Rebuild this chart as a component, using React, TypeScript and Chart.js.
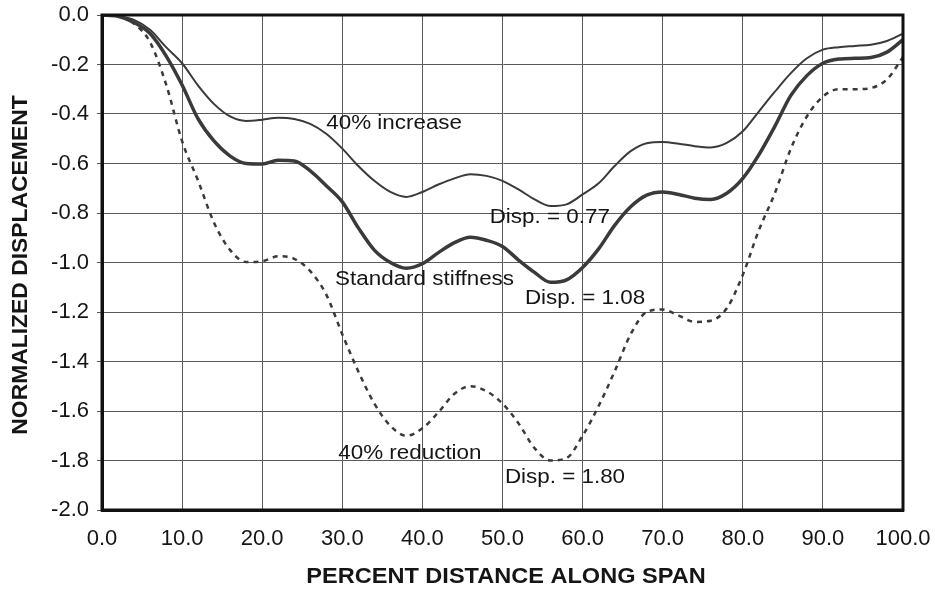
import React, { useEffect, useRef } from "react";
import { Chart, registerables } from "chart.js";

Chart.register(...registerables);

const xs = [0,2,4,6,8,10,12,14,16,18,20,22,24,26,28,30,32,34,36,38,40,42,44,46,48,50,52,54,56,58,60,62,64,66,68,70,72,74,76,78,80,82,84,86,88,90,92,94,96,98,100];

const increase40 = [0,-0.005,-0.02,-0.06,-0.13,-0.195,-0.285,-0.36,-0.41,-0.428,-0.423,-0.415,-0.42,-0.44,-0.48,-0.54,-0.61,-0.67,-0.715,-0.735,-0.715,-0.685,-0.66,-0.643,-0.65,-0.67,-0.705,-0.745,-0.772,-0.765,-0.725,-0.68,-0.61,-0.55,-0.518,-0.513,-0.52,-0.53,-0.535,-0.517,-0.47,-0.39,-0.31,-0.235,-0.175,-0.14,-0.13,-0.125,-0.12,-0.105,-0.075];

const standard = [0,-0.005,-0.03,-0.075,-0.165,-0.283,-0.42,-0.51,-0.57,-0.6,-0.602,-0.587,-0.59,-0.63,-0.69,-0.755,-0.86,-0.95,-1.0,-1.023,-1.005,-0.96,-0.92,-0.898,-0.91,-0.935,-0.99,-1.04,-1.08,-1.07,-1.02,-0.945,-0.85,-0.775,-0.728,-0.715,-0.725,-0.74,-0.745,-0.72,-0.66,-0.565,-0.45,-0.325,-0.245,-0.195,-0.178,-0.175,-0.172,-0.15,-0.1];

const reduction40 = [0,-0.005,-0.035,-0.11,-0.28,-0.51,-0.67,-0.84,-0.95,-0.998,-0.995,-0.975,-0.985,-1.035,-1.13,-1.29,-1.44,-1.57,-1.66,-1.7,-1.67,-1.605,-1.53,-1.5,-1.52,-1.57,-1.65,-1.75,-1.8,-1.79,-1.7,-1.58,-1.44,-1.29,-1.2,-1.19,-1.215,-1.24,-1.235,-1.185,-1.05,-0.87,-0.72,-0.54,-0.41,-0.33,-0.3,-0.3,-0.295,-0.26,-0.17];

const annotations = [
  { text: "40% increase", x: 28.0, y: -0.44 },
  { text: "Disp. = 0.77", x: 48.4, y: -0.82 },
  { text: "Standard stiffness", x: 29.1, y: -1.07 },
  { text: "Disp. = 1.08", x: 52.8, y: -1.147 },
  { text: "40% reduction", x: 29.5, y: -1.77 },
  { text: "Disp. = 1.80", x: 50.3, y: -1.87 },
];

const xTitle = "PERCENT DISTANCE ALONG SPAN";
const yTitle = "NORMALIZED DISPLACEMENT";

const FONT = "'Liberation Sans', Arial, sans-serif";
const LINE = "#3a3a3a";

const pts = (ys: number[]) => xs.map((x, i) => ({ x, y: ys[i] }));

const overlay = {
  id: "overlay",
  afterDraw(chart: any) {
    const { ctx, chartArea: a, scales } = chart;
    ctx.save();
    ctx.strokeStyle = "#111";
    ctx.lineWidth = 3;
    ctx.strokeRect(a.left, a.top, a.right - a.left, a.bottom - a.top);
    ctx.fillStyle = "#151515";
    ctx.font = `20px ${FONT}`;
    ctx.textBaseline = "middle";
    ctx.textAlign = "left";
    for (const t of annotations) {
      const px = scales.x.getPixelForValue(t.x);
      const py = scales.y.getPixelForValue(t.y);
      ctx.save();
      ctx.translate(px, py);
      ctx.scale(1.12, 1);
      ctx.fillText(t.text, 0, 0);
      ctx.restore();
    }
    ctx.font = `bold 22px ${FONT}`;
    ctx.textAlign = "center";
    ctx.save();
    ctx.translate(506, 577);
    ctx.scale(1.07, 1);
    ctx.fillText(xTitle, 0, 0);
    ctx.restore();
    ctx.save();
    ctx.translate(21, 265);
    ctx.rotate(-Math.PI / 2);
    ctx.scale(1.04, 1);
    ctx.fillText(yTitle, 0, 0);
    ctx.restore();
    ctx.restore();
  },
};

export default function App() {
  const ref = useRef<HTMLCanvasElement>(null);
  useEffect(() => {
    const chart = new Chart(ref.current!, {
      type: "line",
      data: {
        datasets: [
          { label: "40% increase", data: pts(increase40), borderColor: LINE, borderWidth: 2, pointRadius: 0, cubicInterpolationMode: "monotone", fill: false },
          { label: "Standard stiffness", data: pts(standard), borderColor: LINE, borderWidth: 3.5, pointRadius: 0, cubicInterpolationMode: "monotone", fill: false },
          { label: "40% reduction", data: pts(reduction40), borderColor: LINE, borderWidth: 2.5, borderDash: [5, 5], pointRadius: 0, cubicInterpolationMode: "monotone", fill: false },
        ],
      },
      options: {
        animation: false,
        responsive: false,
        maintainAspectRatio: false,
        layout: { padding: { top: 15, right: 32, left: 0, bottom: 0 } },
        plugins: { legend: { display: false }, tooltip: { enabled: false } },
        scales: {
          x: {
            type: "linear",
            min: 0,
            max: 100,
            afterFit: (s: any) => { s.height = 80; s.paddingLeft = 0; s.paddingRight = 0; },
            ticks: { stepSize: 10, callback: (v: any) => Number(v).toFixed(1), font: { family: FONT, size: 22 }, color: "#151515", padding: 16, maxRotation: 0 },
            grid: { color: "#5a5a5a", lineWidth: 1, drawTicks: false },
            border: { display: true, color: "#111", width: 3 },
          },
          y: {
            min: -2,
            max: 0,
            afterFit: (s: any) => { s.width = 102; s.paddingTop = 0; s.paddingBottom = 0; },
            ticks: { stepSize: 0.2, callback: (v: any) => (Math.abs(v) < 1e-9 ? "0.0" : Number(v).toFixed(1)), font: { family: FONT, size: 22 }, color: "#151515", padding: 8 },
            grid: { color: "#5a5a5a", lineWidth: 1, drawTicks: true, tickLength: 5 },
            border: { display: true, color: "#111", width: 3 },
          },
        },
      },
      plugins: [overlay],
    } as any);
    return () => chart.destroy();
  }, []);
  return (
    <div style={{ position: "fixed", left: 0, top: 0, width: 935, height: 590, background: "#fff" }}>
      <canvas ref={ref} width={935} height={590} />
    </div>
  );
}
